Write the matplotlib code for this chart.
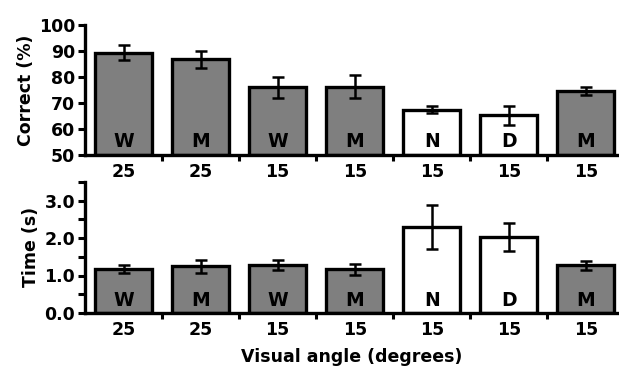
import matplotlib
matplotlib.use("Agg")
import matplotlib.pyplot as plt
import numpy as np
from matplotlib.ticker import MultipleLocator, FixedLocator

plt.rcParams['font.family'] = ['DejaVu Sans']
plt.rcParams['font.weight'] = 'bold'

angles = ["25", "25", "15", "15", "15", "15", "15"]
letters = ["W", "M", "W", "M", "N", "D", "M"]
filled = [True, True, True, True, False, False, True]
correct = [89.3, 86.8, 76.0, 76.2, 67.5, 65.2, 74.6]
correct_err = [2.9, 3.2, 4.0, 4.4, 1.2, 3.8, 1.5]
time_s = [1.17, 1.25, 1.28, 1.17, 2.30, 2.03, 1.27]
time_err = [0.10, 0.17, 0.13, 0.15, 0.58, 0.37, 0.13]

gray = "#7f7f7f"
fig = plt.figure(figsize=(6.19, 3.75), dpi=100)
ax1 = fig.add_axes([85/619, 1-155/375, 1-85/619, 130/375])
ax2 = fig.add_axes([85/619, 1-313/375, 1-85/619, 131.25/375])

x = np.arange(len(angles))
colors = [gray if f else "white" for f in filled]
lw = 2.4
fs = 12.5
fs_letter = 13.5

def style(ax):
    for s in ["top", "right"]:
        ax.spines[s].set_visible(False)
    for s in ["left", "bottom"]:
        ax.spines[s].set_linewidth(lw)
    ax.set_xlim(-0.5, 6.43)
    ax.set_xticks(x)
    ax.set_xticklabels(angles, fontsize=fs, fontweight='bold')
    ax.tick_params(axis='x', which='major', length=0, pad=6)
    ax.xaxis.set_minor_locator(FixedLocator(x[:-1] + 0.5))
    ax.tick_params(axis='x', which='minor', length=4, width=2.2, direction='out')
    ax.tick_params(axis='y', which='major', length=5, width=2.2, labelsize=fs, pad=2)
    for lab in ax.get_yticklabels():
        lab.set_fontweight('bold')

ax1.bar(x, np.array(correct) - 50, bottom=50, width=0.74, color=colors,
        edgecolor='black', linewidth=lw, zorder=2)
ax1.errorbar(x, correct, yerr=correct_err, fmt='none', ecolor='black',
             elinewidth=1.8, capsize=4, capthick=1.8, zorder=3)
ax1.set_ylim(50, 100)
ax1.set_yticks(np.arange(50, 101, 10))
style(ax1)
ax1.set_ylabel("Correct (%)", fontsize=fs, fontweight='bold', labelpad=3)
for xi, l in zip(x, letters):
    ax1.text(xi, 55.3, l, ha='center', va='center', fontsize=fs_letter, fontweight='bold')

ax2.bar(x, time_s, width=0.74, color=colors, edgecolor='black', linewidth=lw, zorder=2)
ax2.errorbar(x, time_s, yerr=time_err, fmt='none', ecolor='black',
             elinewidth=1.8, capsize=4, capthick=1.8, zorder=3)
ax2.set_ylim(0, 3.5)
ax2.set_yticks([0, 1, 2, 3])
ax2.set_yticklabels(["0.0", "1.0", "2.0", "3.0"])
ax2.yaxis.set_minor_locator(MultipleLocator(0.5))
ax2.tick_params(axis='y', which='minor', length=5, width=2.2)
style(ax2)
ax2.set_ylabel("Time (s)", fontsize=fs, fontweight='bold', labelpad=3)
ax2.set_xlabel("Visual angle (degrees)", fontsize=fs, fontweight='bold', labelpad=6)
for xi, l in zip(x, letters):
    ax2.text(xi, 0.32, l, ha='center', va='center', fontsize=fs_letter, fontweight='bold')

fig.savefig("out.png", dpi=100)
